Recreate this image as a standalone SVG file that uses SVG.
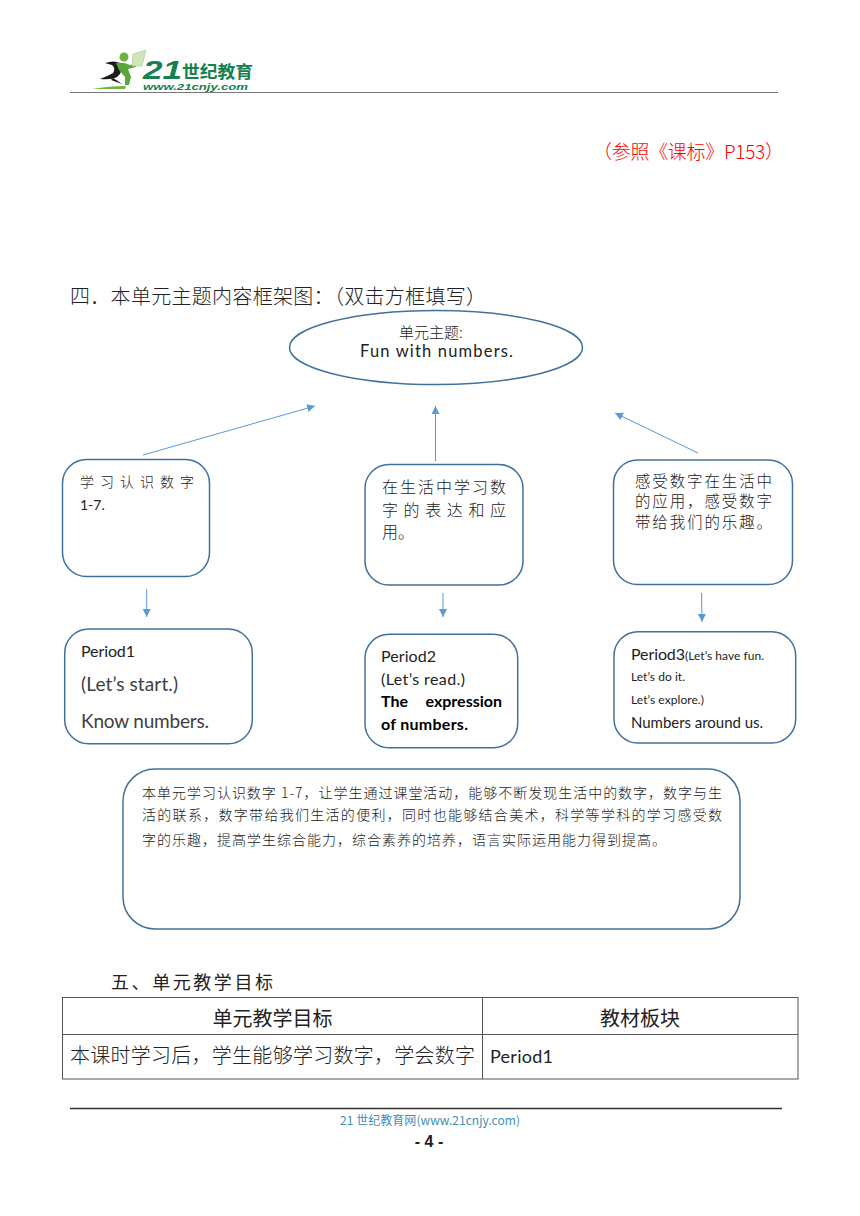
<svg xmlns="http://www.w3.org/2000/svg" width="860" height="1216" viewBox="0 0 860 1216">
<style>
text{font-family:"Noto Sans CJK SC",sans-serif;fill:#222;font-weight:300}
.l{font-family:"Lato","Noto Sans CJK SC",sans-serif;font-weight:400}
.b{font-weight:700;fill:#000}
.m{font-weight:400}
.n{fill:#fff;stroke:#41719c;stroke-width:1.5}
.c{stroke:#5b9bd5;stroke-width:1;fill:none;marker-end:url(#a)}
.t{stroke:#555;stroke-width:1;fill:none}
.g{fill:#15814f;font-weight:700}
</style>
<defs>
<marker id="a" markerUnits="userSpaceOnUse" markerWidth="9" markerHeight="9" refX="8" refY="4" orient="auto"><path d="M0 0L8 4L0 8Z" fill="#5b9bd5"/></marker>
</defs>
<rect width="860" height="1216" fill="#fff"/>
<g id="header">
<path d="M92 89Q110 86 126 86L125 89Z" fill="#6cb33f"/>
<path d="M105 63Q114 60 120 63Q124 72 117 77Q112 80 100 79Q108 76 113 73Q116 68 112 65Q108 64 105 63Z" fill="#1a1a1a"/>
<path d="M113 78Q118 81 122 84L111 80Z" fill="#1a1a1a"/>
<circle cx="124" cy="57" r="4.500" fill="#6cb33f"/>
<path d="M116 63Q124 62 130 65L136 64L136 67L128 69L131 77L129 85L125 85L125 77L119 70Z" fill="#5aa63a"/>
<path d="M133 54L146 50L142 66L132 66Z" fill="#d2e4ba" stroke="#a9c48c" stroke-width=".6"/>
<text class="g" x="143" y="79" font-size="25" font-style="italic" style="font-family:'Liberation Sans',sans-serif" textLength="39" lengthAdjust="spacingAndGlyphs">21</text>
<text class="g" x="182" y="78" font-size="17.500" textLength="71" lengthAdjust="spacingAndGlyphs">世纪教育</text>
<text class="g" x="143" y="90" font-size="9" font-style="italic" style="font-family:'Liberation Sans',sans-serif" textLength="105" lengthAdjust="spacingAndGlyphs">www.21cnjy.com</text>
<path d="M70 92.500H778" stroke="#777" stroke-width="1"/>
</g>
<text x="593" y="159" font-size="19" style="fill:#f00" textLength="191">（参照《课标》P153）</text>
<text x="70" y="304" font-size="20" textLength="416">四．本单元主题内容框架图：（双击方框填写）</text>
<g id="connectors">
<path class="c" d="M143 455L315 406"/>
<path class="c" d="M435.500 461V406"/>
<path class="c" d="M698 453L615 413"/>
<path class="c" d="M146.700 589V617"/>
<path class="c" d="M443 593V617"/>
<path class="c" d="M701.500 593L702 622"/>
</g>
<g id="theme">
<ellipse class="n" cx="436" cy="347.500" rx="146.500" ry="37"/>
<text x="431" y="338" font-size="15" text-anchor="middle">单元主题:</text>
<text class="l" x="436.500" y="357" font-size="16.500" text-anchor="middle" textLength="153">Fun with numbers.</text>
</g>
<g id="box1">
<rect class="n" x="62.500" y="459.500" width="147" height="117" rx="24"/>
<text x="80" y="487" font-size="14" textLength="114">学习认识数字</text>
<text class="l" x="80" y="510" font-size="14">1-7.</text>
</g>
<g id="box2">
<rect class="n" x="365" y="464.500" width="158" height="120.500" rx="24"/>
<text x="382" y="493" font-size="16" textLength="124">在生活中学习数</text>
<text x="382" y="516" font-size="16" textLength="124">字的表达和应</text>
<text x="382" y="538" font-size="16">用。</text>
</g>
<g id="box3">
<rect class="n" x="613.500" y="460" width="179" height="124.500" rx="24"/>
<text x="635" y="487" font-size="15.500" textLength="137">感受数字在生活中</text>
<text x="635" y="507" font-size="15.500" textLength="137">的应用，感受数字</text>
<text x="635" y="528" font-size="15.500" textLength="137">带给我们的乐趣。</text>
</g>
<g id="period1">
<rect class="n" x="64.700" y="629" width="187.600" height="114.700" rx="24"/>
<text class="l" x="81" y="657" font-size="16" textLength="54">Period1</text>
<text class="l" x="81" y="691" font-size="19" textLength="97" style="fill:#404040">(Let’s start.)</text>
<text class="l" x="81" y="728" font-size="19" textLength="128" style="fill:#404040">Know numbers.</text>
</g>
<g id="period2">
<rect class="n" x="365" y="634.300" width="152.700" height="113.400" rx="24"/>
<text class="l" x="381" y="662" font-size="16" textLength="55">Period2</text>
<text class="l" x="381" y="685" font-size="16" textLength="84">(Let’s read.)</text>
<text class="l b" x="381" y="707" font-size="16">The</text>
<text class="l b" x="502" y="707" font-size="16" text-anchor="end">expression</text>
<text class="l b" x="381" y="730" font-size="16" textLength="87">of numbers.</text>
</g>
<g id="period3">
<rect class="n" x="614" y="631.700" width="181.700" height="111.300" rx="24"/>
<text class="l" x="631" y="660" font-size="16" textLength="54">Period3</text>
<text class="l" x="685" y="660" font-size="12" textLength="79">(Let’s have fun.</text>
<text class="l" x="631" y="681" font-size="12" textLength="54">Let’s do it.</text>
<text class="l" x="631" y="704" font-size="12" textLength="73">Let’s explore.)</text>
<text class="l" x="631" y="728" font-size="15" textLength="132">Numbers around us.</text>
</g>
<g id="summary">
<rect class="n" x="123" y="769" width="617" height="160" rx="32"/>
<text x="142" y="798" font-size="14" textLength="580">本单元学习认识数字 1-7，让学生通过课堂活动，能够不断发现生活中的数字，数字与生</text>
<text x="142" y="820" font-size="14" textLength="580">活的联系，数字带给我们生活的便利，同时也能够结合美术，科学等学科的学习感受数</text>
<text x="142" y="845" font-size="14" textLength="524">字的乐趣，提高学生综合能力，综合素养的培养，语言实际运用能力得到提高。</text>
</g>
<text class="m" x="111" y="989" font-size="18" textLength="162">五、单元教学目标</text>
<g id="table">
<rect class="t" x="62.500" y="997.500" width="735.500" height="81.500"/>
<path class="t" d="M62.500 1034.500H798M482.500 997.500V1079"/>
<text class="m" x="272.500" y="1026" font-size="20" text-anchor="middle">单元教学目标</text>
<text class="m" x="640" y="1026" font-size="20" text-anchor="middle">教材板块</text>
<text x="70" y="1063" font-size="20" textLength="405">本课时学习后，学生能够学习数字，学会数字</text>
<text class="l" x="490" y="1063" font-size="18" textLength="63">Period1</text>
</g>
<g id="footer">
<path d="M70 1108.500H782" stroke="#333" stroke-width="1.500"/>
<text x="430" y="1125" font-size="12" text-anchor="middle" textLength="180" style="fill:#3f8fb5;font-weight:400">21 世纪教育网(www.21cnjy.com)</text>
<text x="429" y="1147" font-size="16" text-anchor="middle" style="font-family:'Liberation Sans',sans-serif;font-weight:700">- 4 -</text>
</g>
</svg>
